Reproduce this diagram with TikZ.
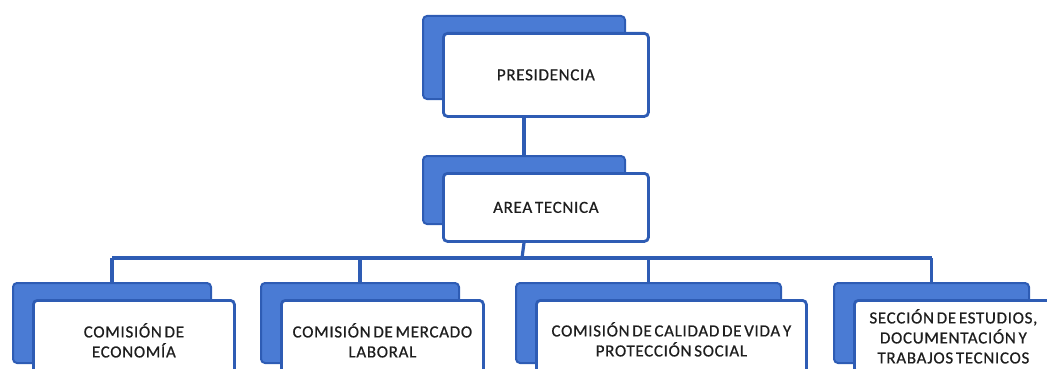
\documentclass[tikz,border=0pt]{standalone}
\usepackage{fontspec}
\setmainfont{Carlito}[LetterSpace=4,WordSpace=0.6,FakeBold=0.6]
\definecolor{bfill}{HTML}{4A7BD4}
\definecolor{bline}{HTML}{2E5CB4}
\definecolor{txt}{HTML}{1E1E1E}
\begin{document}
\begin{tikzpicture}[x=1pt,y=-1pt,
  backbox/.style={draw=bline, fill=bfill, line width=2pt, rounded corners=4pt,
    anchor=north west, inner sep=0pt, minimum width=#1},
  frontbox/.style={draw=bline, fill=white, line width=2.8pt, rounded corners=4pt,
    anchor=north west, inner sep=0pt, minimum width=#1, align=center, text=txt,
    font=\fontsize{17}{20}\selectfont},
  link/.style={draw=bline, line width=3.2pt}]
\useasboundingbox (0,0) rectangle (1047,369);
\clip (0,0) rectangle (1047,369);
% top
\node[backbox=202, minimum height=83] (pb) at (422,15) {};
\node[frontbox=205, minimum height=83] (pf) at (442,32) {PRESIDENCIA};
\node[backbox=202, minimum height=68] (ab) at (422,155) {};
\node[frontbox=205, minimum height=68] (af) at (442,172) {AREA TECNICA};
% bottom backs
\node[backbox=198, minimum height=80] (b1b) at (12,282) {};
\node[backbox=198, minimum height=80] (b2b) at (260,282) {};
\node[backbox=265, minimum height=80] (b3b) at (515,282) {};
\node[backbox=195, minimum height=80] (b4b) at (833,282) {};
% bottom fronts
\node[frontbox=201, minimum height=80] (b1f) at (32,299) {COMISIÓN DE\\ECONOMÍA};
\node[frontbox=202, minimum height=80] (b2f) at (280,299) {COMISIÓN DE MERCADO\\LABORAL};
\node[frontbox=270, minimum height=78] (b3f) at (535,299) {COMISIÓN DE CALIDAD DE VIDA Y\\PROTECCIÓN SOCIAL};
\node[frontbox=198, minimum height=72] (b4f) at (853,299) {SECCIÓN DE ESTUDIOS,\\DOCUMENTACIÓN Y\\TRABAJOS TECNICOS};
% connectors
\coordinate (bus) at (522,258);
\draw[link] (pb.south |- pf.south) -- (ab.north);
\draw[link] (ab.south |- af.south) -- (bus);
\draw[link] (b1b.north |- bus) -- (b4b.north |- bus);
\draw[link] (b1b.north |- bus) -- (b1b.north);
\draw[link] (b2b.north |- bus) -- (b2b.north);
\draw[link] (b3b.north |- bus) -- (b3b.north);
\draw[link] (b4b.north |- bus) -- (b4b.north);
\end{tikzpicture}
\end{document}
